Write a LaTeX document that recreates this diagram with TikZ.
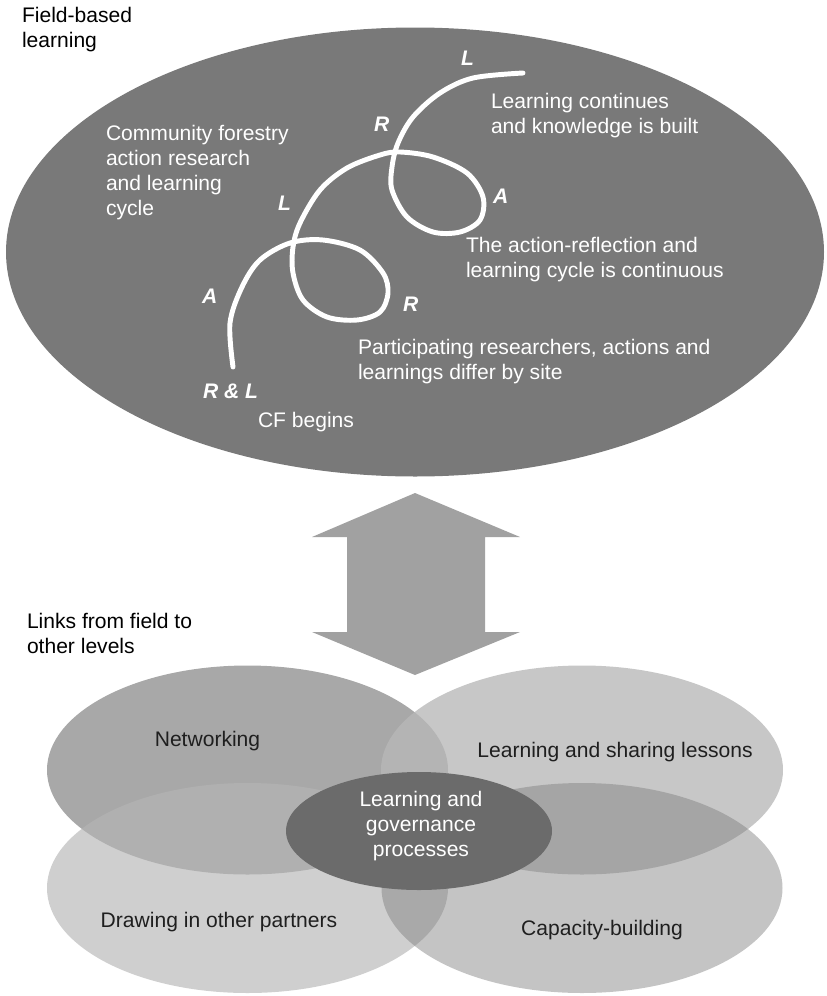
\documentclass[tikz,border=0pt]{standalone}
\usepackage{fontspec}
\setmainfont{Liberation Sans}
\definecolor{fieldgray}{gray}{0.475}
\definecolor{arrowgray}{gray}{0.63}
\definecolor{netgray}{gray}{0.66}
\definecolor{sharegray}{gray}{0.72}
\definecolor{drawgray}{gray}{0.71}
\definecolor{capgray}{gray}{0.49}
\definecolor{coregray}{gray}{0.42}
\definecolor{inkgray}{gray}{0.12}
\begin{document}
\begin{tikzpicture}[x=0.75pt,y=-0.75pt,
  every node/.style={inner sep=0pt, outer sep=0pt},
  txt/.style={font=\fontsize{15.8}{18.75}\selectfont},
  % multi-line nodes are placed by the baseline of their last line
  plain/.style={txt, align=left, anchor=base west, text=black},
  inside/.style={txt, align=left, anchor=base west, text=white},
  tag/.style={txt, font=\fontsize{15.8}{18.75}\selectfont\bfseries\itshape, anchor=base west, text=white},
  lower/.style={txt, align=center, anchor=base, text=inkgray},
  spiral/.style={white, line width=3.7pt, line cap=round, line join=round}]
\useasboundingbox (0,0) rectangle (827,996);

% field-based learning ellipse
\fill[fieldgray] (415,252) ellipse [x radius=409, y radius=224.5];

% action-reflection-learning spiral
\draw[spiral] plot[smooth, tension=0.55] coordinates {
  (233,367) (230,323) (242,287) (260,260) (290,243) (323,240) (360,250)
  (383,273) (388,293) (380,312) (357,320) (327,317) (303,300) (293,273)
  (293,247) (300,223) (320,190) (347,168) (380,155) (400,152) (433,157)
  (467,173) (483,197) (480,220) (460,232) (433,232) (407,217) (392,190)
  (392,167) (398,143) (413,117) (440,93) (473,78) (523,73)};

% spiral stage letters
\node[tag] (l1) at (461,65) {L};
\node[tag] (r1) at (374,131) {R};
\node[tag] (a1) at (493,203) {A};
\node[tag] (l2) at (278,210) {L};
\node[tag] (a2) at (202,303) {A};
\node[tag] (r2) at (403,311) {R};
\node[tag] (rl) at (203,398) {R \& L};

% texts inside the field ellipse
\node[inside] (cycle) at (106,215) {Community forestry\\action research\\and learning\\cycle};
\node[inside] (built) at (491,133) {Learning continues\\and knowledge is built};
\node[inside] (cont) at (466,277) {The action-reflection and\\learning cycle is continuous};
\node[inside] (site) at (358,379) {Participating researchers, actions and\\learnings differ by site};
\node[inside] (begin) at (258,427) {CF begins};

\node[plain] (field) at (22,47) {Field-based\\learning};

% two-way arrow between the levels
\fill[arrowgray] (415,493) -- (520,537) -- (485,537) -- (485,632) -- (520,632)
  -- (415,675) -- (312,632) -- (347,632) -- (347,537) -- (312,537) -- cycle;

\node[plain] (links) at (27,653) {Links from field to\\other levels};

% overlapping link ellipses
\fill[netgray] (247.5,770) ellipse [x radius=200.5, y radius=104.5];
\fill[sharegray, fill opacity=0.79] (582,770) ellipse [x radius=201, y radius=104.5];
\fill[drawgray, fill opacity=0.65] (247.5,888) ellipse [x radius=200.5, y radius=105];
\fill[capgray, fill opacity=0.45] (582,888) ellipse [x radius=200.5, y radius=105];
\fill[coregray] (419,831) ellipse [x radius=133, y radius=59];

\node[lower] (net) at (207.5,746) {Networking};
\node[lower] (share) at (615,757) {Learning and sharing lessons};
\node[lower] (partners) at (219,927) {Drawing in other partners};
\node[lower] (capacity) at (602,935) {Capacity-building};
\node[lower, text=white] (core) at (421,856) {Learning and\\governance\\processes};
\end{tikzpicture}
\end{document}
